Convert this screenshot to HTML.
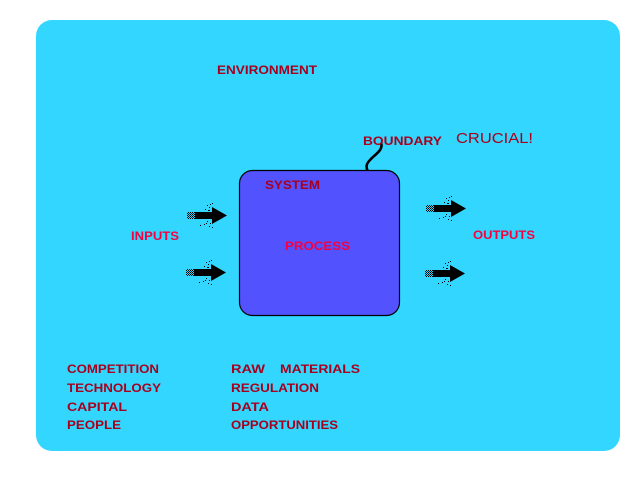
<!DOCTYPE html>
<html><head><meta charset="utf-8"><style>
html,body{margin:0;padding:0;background:#fff;width:640px;height:480px;overflow:hidden}
svg{display:block}
text{font-family:"Liberation Sans",sans-serif;font-weight:bold}
.d{fill:#a8001c;font-size:12.4px}
.b{fill:#f80040;font-size:12.4px}
</style></head><body>
<svg width="640" height="480" viewBox="0 0 640 480" xmlns="http://www.w3.org/2000/svg">
<defs>
<pattern id="chk" width="2" height="2" patternUnits="userSpaceOnUse">
<rect x="0" y="0" width="1" height="1" fill="#000"/><rect x="1" y="1" width="1" height="1" fill="#000"/>
</pattern>
<g id="arr">
<rect x="0" y="-3" width="9" height="7" fill="url(#chk)"/>
<rect x="8" y="-3" width="20" height="7" fill="#000"/>
<polygon points="25,-8 40,0.5 25,9" fill="#000"/>
<rect x="20" y="-10" width="1" height="1" fill="#000"/>
<rect x="23" y="-11" width="1" height="1" fill="#000"/>
<rect x="25" y="-12" width="1" height="1" fill="#000"/>
<rect x="22" y="-8" width="1" height="1" fill="#000"/>
<rect x="18" y="-6" width="1" height="1" fill="#000"/>
<rect x="21" y="-5" width="2" height="1" fill="#000"/>
<rect x="20" y="6" width="1" height="1" fill="#000"/>
<rect x="23" y="8" width="1" height="1" fill="#000"/>
<rect x="17" y="9" width="1" height="1" fill="#000"/>
<rect x="13" y="10" width="1" height="1" fill="#000"/>
<rect x="22" y="11" width="1" height="1" fill="#000"/>
<rect x="25" y="12" width="1" height="1" fill="#000"/>
<rect x="19" y="8" width="1" height="1" fill="#000"/>
</g>
</defs>
<rect x="36" y="20" width="584" height="431" rx="16" ry="16" fill="#33d6ff"/>
<rect x="239.5" y="170.5" width="160" height="145" rx="13" ry="13" fill="#5252ff" stroke="#000" stroke-width="1.2"/>
<path d="M381,143 C384,150 374,155 370,160 C366,164 366,167 367.5,170.5" fill="none" stroke="#000" stroke-width="2.6"/>
<use href="#arr" x="187" y="215"/>
<use href="#arr" x="186" y="272"/>
<use href="#arr" x="426" y="208"/>
<use href="#arr" x="425" y="273"/>
<text class="d" x="217" y="74" textLength="100" lengthAdjust="spacingAndGlyphs">ENVIRONMENT</text>
<text class="d" x="363" y="145" textLength="79" lengthAdjust="spacingAndGlyphs">BOUNDARY</text>
<text class="d" x="456" y="143" textLength="77" lengthAdjust="spacingAndGlyphs" style="font-size:15px;font-weight:normal">CRUCIAL!</text>
<text class="d" x="265" y="189" textLength="55" lengthAdjust="spacingAndGlyphs">SYSTEM</text>
<text class="b" x="285" y="250" textLength="65" lengthAdjust="spacingAndGlyphs">PROCESS</text>
<text class="b" x="131" y="240" textLength="48" lengthAdjust="spacingAndGlyphs">INPUTS</text>
<text class="b" x="473" y="239" textLength="62" lengthAdjust="spacingAndGlyphs">OUTPUTS</text>
<text class="d" x="67" y="373" textLength="92" lengthAdjust="spacingAndGlyphs">COMPETITION</text>
<text class="d" x="67" y="392" textLength="94" lengthAdjust="spacingAndGlyphs">TECHNOLOGY</text>
<text class="d" x="67" y="411" textLength="60" lengthAdjust="spacingAndGlyphs">CAPITAL</text>
<text class="d" x="67" y="429" textLength="54" lengthAdjust="spacingAndGlyphs">PEOPLE</text>
<text class="d" x="231" y="373" textLength="34" lengthAdjust="spacingAndGlyphs">RAW</text>
<text class="d" x="280" y="373" textLength="80" lengthAdjust="spacingAndGlyphs">MATERIALS</text>
<text class="d" x="231" y="392" textLength="88" lengthAdjust="spacingAndGlyphs">REGULATION</text>
<text class="d" x="231" y="411" textLength="38" lengthAdjust="spacingAndGlyphs">DATA</text>
<text class="d" x="231" y="429" textLength="107" lengthAdjust="spacingAndGlyphs">OPPORTUNITIES</text>
</svg>
</body></html>
